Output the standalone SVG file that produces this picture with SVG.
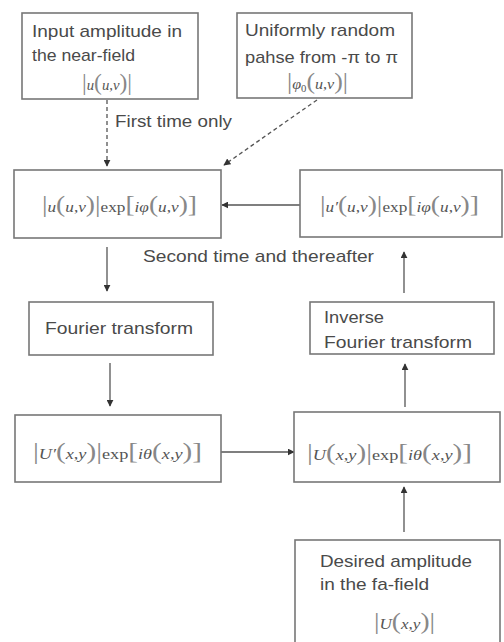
<svg xmlns="http://www.w3.org/2000/svg" width="504" height="642" viewBox="0 0 504 642">
<style>
.box{fill:#fff;stroke:#777;stroke-width:1.6}
.t{font-family:"Liberation Sans",Arial,sans-serif;font-size:17px;fill:#4a4a4a}
.m{font-family:"Liberation Serif","Times New Roman",serif;font-size:15px;fill:#555}
.i{font-style:italic}
.b{font-size:24px;fill:#888}
.c{stroke:#555;stroke-width:1.3;fill:none}
.d{stroke-dasharray:4,3}
</style>
<defs>
<marker id="ah" viewBox="0 0 10 10" refX="9" refY="5" markerWidth="7" markerHeight="7" orient="auto" markerUnits="userSpaceOnUse">
<path d="M0,0 L10,5 L0,10 Z" fill="#333"/>
</marker>
</defs>
<rect width="504" height="642" fill="#fff"/>

<g id="connectors">
<line class="c d" x1="107" y1="100" x2="107" y2="166" marker-end="url(#ah)"/>
<line class="c d" x1="317" y1="100" x2="224" y2="165" marker-end="url(#ah)"/>
<line class="c" x1="300" y1="205" x2="222" y2="205" marker-end="url(#ah)"/>
<line class="c" x1="107" y1="247" x2="107" y2="291" marker-end="url(#ah)"/>
<line class="c" x1="110" y1="363" x2="110" y2="406" marker-end="url(#ah)"/>
<line class="c" x1="221" y1="452" x2="294" y2="452" marker-end="url(#ah)"/>
<line class="c" x1="405" y1="407" x2="405" y2="364" marker-end="url(#ah)"/>
<line class="c" x1="404" y1="293" x2="404" y2="252" marker-end="url(#ah)"/>
<line class="c" x1="404" y1="532" x2="404" y2="487" marker-end="url(#ah)"/>
<text class="t" x="115" y="127" textLength="117" lengthAdjust="spacingAndGlyphs">First time only</text>
<text class="t" x="143" y="262" textLength="231" lengthAdjust="spacingAndGlyphs">Second time and thereafter</text>
</g>

<g id="input-amplitude">
<rect class="box" x="22" y="13" width="176" height="86"/>
<text class="t" x="32" y="37" textLength="150" lengthAdjust="spacingAndGlyphs">Input amplitude in</text>
<text class="t" x="32" y="61" textLength="103" lengthAdjust="spacingAndGlyphs">the near-field</text>
<text class="m" x="82" y="90" textLength="50" lengthAdjust="spacingAndGlyphs"><tspan class="b">|</tspan><tspan class="i">u</tspan><tspan class="b">(</tspan><tspan class="i">u</tspan>,<tspan class="i">v</tspan><tspan class="b">)</tspan><tspan class="b">|</tspan></text>
</g>

<g id="random-phase">
<rect class="box" x="237" y="13" width="175" height="85"/>
<text class="t" x="245" y="36" textLength="150" lengthAdjust="spacingAndGlyphs">Uniformly random</text>
<text class="t" x="245" y="63" textLength="153" lengthAdjust="spacingAndGlyphs">pahse from -π to π</text>
<text class="m" x="287" y="89" textLength="61" lengthAdjust="spacingAndGlyphs"><tspan class="b">|</tspan><tspan class="i">φ</tspan><tspan font-size="10" dy="3">0</tspan><tspan class="b" dy="-3">(</tspan><tspan class="i">u</tspan>,<tspan class="i">v</tspan><tspan class="b">)</tspan><tspan class="b">|</tspan></text>
</g>

<g id="near-field">
<rect class="box" x="14" y="170" width="207" height="68"/>
<text class="m" x="42" y="212" textLength="155" lengthAdjust="spacingAndGlyphs"><tspan class="b">|</tspan><tspan class="i">u</tspan><tspan class="b">(</tspan><tspan class="i">u</tspan>,<tspan class="i">v</tspan><tspan class="b">)</tspan><tspan class="b">|</tspan>exp<tspan class="b">[</tspan><tspan class="i">iφ</tspan><tspan class="b">(</tspan><tspan class="i">u</tspan>,<tspan class="i">v</tspan><tspan class="b">)</tspan><tspan class="b">]</tspan></text>
</g>

<g id="near-field-updated">
<rect class="box" x="300" y="170" width="202" height="67"/>
<text class="m" x="320" y="212" textLength="159" lengthAdjust="spacingAndGlyphs"><tspan class="b">|</tspan><tspan class="i">u′</tspan><tspan class="b">(</tspan><tspan class="i">u</tspan>,<tspan class="i">v</tspan><tspan class="b">)</tspan><tspan class="b">|</tspan>exp<tspan class="b">[</tspan><tspan class="i">iφ</tspan><tspan class="b">(</tspan><tspan class="i">u</tspan>,<tspan class="i">v</tspan><tspan class="b">)</tspan><tspan class="b">]</tspan></text>
</g>

<g id="fourier">
<rect class="box" x="29" y="302" width="184" height="53"/>
<text class="t" x="45" y="334" textLength="148" lengthAdjust="spacingAndGlyphs">Fourier transform</text>
</g>

<g id="inverse-fourier">
<rect class="box" x="310" y="302" width="184" height="52"/>
<text class="t" x="324" y="323" textLength="60" lengthAdjust="spacingAndGlyphs">Inverse</text>
<text class="t" x="324" y="348" textLength="148" lengthAdjust="spacingAndGlyphs">Fourier transform</text>
</g>

<g id="far-field">
<rect class="box" x="15" y="415" width="206" height="67"/>
<text class="m" x="33" y="459" textLength="169" lengthAdjust="spacingAndGlyphs"><tspan class="b">|</tspan><tspan class="i">U′</tspan><tspan class="b">(</tspan><tspan class="i">x</tspan>,<tspan class="i">y</tspan><tspan class="b">)</tspan><tspan class="b">|</tspan>exp<tspan class="b">[</tspan><tspan class="i">iθ</tspan><tspan class="b">(</tspan><tspan class="i">x</tspan>,<tspan class="i">y</tspan><tspan class="b">)</tspan><tspan class="b">]</tspan></text>
</g>

<g id="far-field-updated">
<rect class="box" x="294" y="412" width="206" height="70"/>
<text class="m" x="307" y="460" textLength="165" lengthAdjust="spacingAndGlyphs"><tspan class="b">|</tspan><tspan class="i">U</tspan><tspan class="b">(</tspan><tspan class="i">x</tspan>,<tspan class="i">y</tspan><tspan class="b">)</tspan><tspan class="b">|</tspan>exp<tspan class="b">[</tspan><tspan class="i">iθ</tspan><tspan class="b">(</tspan><tspan class="i">x</tspan>,<tspan class="i">y</tspan><tspan class="b">)</tspan><tspan class="b">]</tspan></text>
</g>

<g id="desired-amplitude">
<rect class="box" x="295" y="540" width="205" height="110"/>
<text class="t" x="320" y="567" textLength="152" lengthAdjust="spacingAndGlyphs">Desired amplitude</text>
<text class="t" x="320" y="590" textLength="109" lengthAdjust="spacingAndGlyphs">in the fa-field</text>
<text class="m" x="374" y="629" textLength="61" lengthAdjust="spacingAndGlyphs"><tspan class="b">|</tspan><tspan class="i">U</tspan><tspan class="b">(</tspan><tspan class="i">x</tspan>,<tspan class="i">y</tspan><tspan class="b">)</tspan><tspan class="b">|</tspan></text>
</g>
</svg>
